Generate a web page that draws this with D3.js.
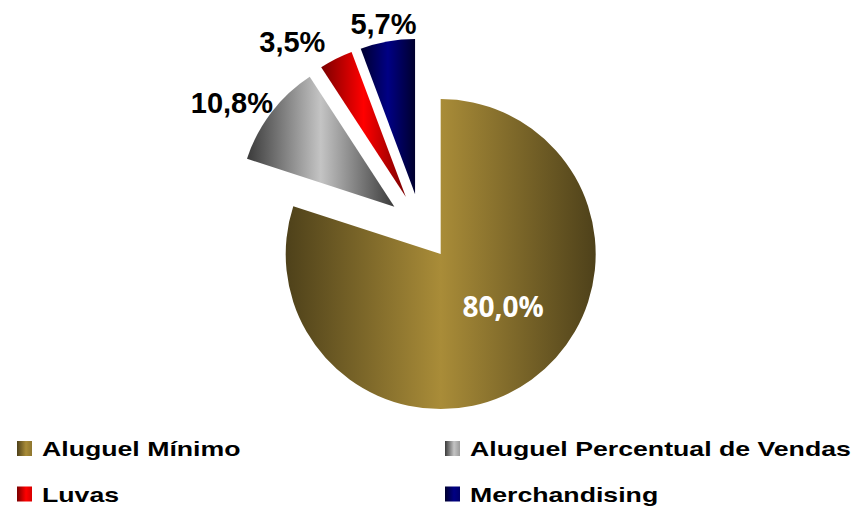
<!DOCTYPE html>
<html>
<head>
<meta charset="utf-8">
<script src="https://cdn.jsdelivr.net/npm/d3@7"></script>
<style>
  html, body { margin: 0; padding: 0; background: #ffffff; }
  svg { display: block; }
</style>
</head>
<body>
<svg id="chart" width="865" height="508"></svg>
<script>
// Revenue mix by category (percent of total)
const categories = ["Aluguel Mínimo", "Aluguel Percentual de Vendas", "Luvas", "Merchandising"];
const shares = [80.0, 10.8, 3.5, 5.7];

// Fill colours per slice: edge (dark) and centre (light) of the horizontal gradient
const darkColors  = ["#4e411a", "#3a3a3a", "#7a0000", "#00002e"];
const lightColors = ["#a98c38", "#c4c4c4", "#ff0000", "#000084"];

const W = 865, H = 508;
const svg = d3.select("#chart");
const defs = svg.append("defs");

// Pie layout
const cx = 421, cy = 227;
const radius = 155;
const explode = 33.5;

const pie = d3.pie().sort(null).startAngle(0).endAngle(2 * Math.PI);
const arcs = pie(shares);
const arc = d3.arc().innerRadius(0).outerRadius(radius);

const fmt = v => d3.format(".1f")(v).replace(".", ",") + "%";

// Gradients: dark edges, light middle, across each slice's bounding box
categories.forEach((c, i) => {
  const g = defs.append("linearGradient")
    .attr("id", "slice-grad-" + i)
    .attr("x1", "0").attr("y1", "0").attr("x2", "1").attr("y2", "0");
  g.append("stop").attr("offset", "0").attr("stop-color", darkColors[i]);
  g.append("stop").attr("offset", "0.5").attr("stop-color", lightColors[i]);
  g.append("stop").attr("offset", "1").attr("stop-color", darkColors[i]);

  const m = defs.append("linearGradient")
    .attr("id", "key-grad-" + i)
    .attr("x1", "0").attr("y1", "0").attr("x2", "1").attr("y2", "0");
  m.append("stop").attr("offset", "0").attr("stop-color", darkColors[i]);
  m.append("stop").attr("offset", "0.6").attr("stop-color", lightColors[i]);
  m.append("stop").attr("offset", "1").attr("stop-color", d3.interpolateRgb(lightColors[i], darkColors[i])(0.3));
});

const midDir = d => {
  const a = (d.startAngle + d.endAngle) / 2;
  return [Math.sin(a), -Math.cos(a)];
};

const pieG = svg.append("g").attr("transform", `translate(${cx},${cy})`);

const slices = pieG.selectAll("g.slice")
  .data(arcs)
  .join("g")
  .attr("class", "slice")
  .attr("transform", d => {
    const [ux, uy] = midDir(d);
    return `translate(${ux * explode},${uy * explode})`;
  });

slices.append("path")
  .attr("d", arc)
  .attr("fill", (d, i) => `url(#slice-grad-${i})`);

// Data labels: inside for the large slice, outside for the others
const labelFont = "'Liberation Sans', Arial, Helvetica, sans-serif";
const labelSize = 29;
const labelGap = 6;
// small per-label nudges so neighbouring outside labels do not collide
const labelNudge = [[15, -12], [-2, 2], [-26, 1], [3, 2]];

slices.each(function (d, i) {
  const g = d3.select(this);
  const [ux, uy] = midDir(d);
  const txt = fmt(shares[i]);
  let x, y;
  if (shares[i] >= 50) {
    x = ux * radius * 0.52 + labelNudge[i][0];
    y = uy * radius * 0.52 + labelNudge[i][1];
    g.append("text")
      .attr("x", x).attr("y", y + 10)
      .attr("text-anchor", "middle")
      .attr("font-family", "'Open Sans', 'Noto Sans', sans-serif")
      .attr("font-weight", 700)
      .attr("font-size", 28)
      .attr("fill", "#ffffff")
      .text(txt);
  } else {
    const t = g.append("text")
      .attr("text-anchor", "middle")
      .attr("font-family", labelFont)
      .attr("font-weight", 700)
      .attr("font-size", labelSize)
      .attr("fill", "#000000")
      .text(txt);
    const bw = t.node().getComputedTextLength();
    const hw = bw / 2, hh = 14;
    x = ux * (radius + labelGap) + ux * hw + labelNudge[i][0];
    y = uy * (radius + labelGap) + uy * hh + labelNudge[i][1];
    t.attr("x", x).attr("y", y + 10.5);
  }
});

// Legend: two columns, two rows
const legendCols = [17, 445];
const legendRows = [456, 501.5];
const keySize = 15;
const legendStretch = 1.27;

const legend = svg.append("g");
categories.forEach((c, i) => {
  const col = i % 2, row = Math.floor(i / 2);
  const lx = legendCols[col], ly = legendRows[row];
  legend.append("rect")
    .attr("x", lx).attr("y", ly - keySize)
    .attr("width", keySize).attr("height", keySize)
    .attr("fill", `url(#key-grad-${i})`);
  legend.append("text")
    .attr("transform", `translate(${lx + 25},${ly}) scale(${legendStretch},1)`)
    .attr("font-family", labelFont)
    .attr("font-weight", 700)
    .attr("font-size", 21)
    .attr("fill", "#000000")
    .text(c);
});
</script>
</body>
</html>
